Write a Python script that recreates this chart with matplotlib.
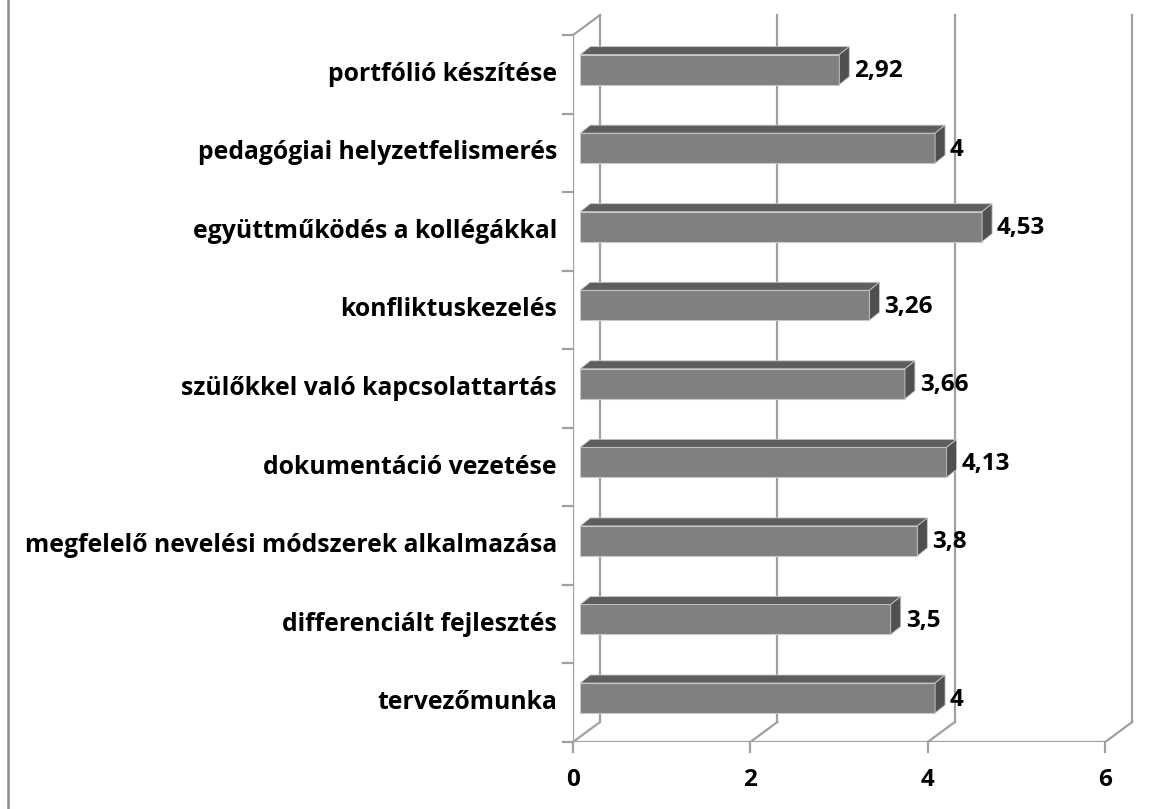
import matplotlib
matplotlib.use("Agg")
import matplotlib.pyplot as plt
from matplotlib.patches import Polygon
from matplotlib.lines import Line2D

categories = [
    "tervezőmunka",
    "differenciált fejlesztés",
    "megfelelő nevelési módszerek alkalmazása",
    "dokumentáció vezetése",
    "szülőkkel való kapcsolattartás",
    "konfliktuskezelés",
    "együttműködés a kollégákkal",
    "pedagógiai helyzetfelismerés",
    "portfólió készítése",
]
values = [4, 3.5, 3.8, 4.13, 3.66, 3.26, 4.53, 4, 2.92]
value_labels = ["4", "3,5", "3,8", "4,13", "3,66", "3,26", "4,53", "4", "2,92"]
xticks = [0, 2, 4, 6]
xtick_labels = ["0", "2", "4", "6"]

FONT = ["Open Sans", "DejaVu Sans"]
FS_CAT = 17.8
FS_VAL = 17.5
FS_TICK = 17.5

W, H = 1152, 809
fig = plt.figure(figsize=(W / 100, H / 100), dpi=100)

# pixel geometry of the front plane
px_unit = 88.7          # pixels per value unit
py_cat = 78.55          # pixels per category
x0_px, y0_px = 573, 742
xmax, ymax = 6.4, 9.35
ax = fig.add_axes([x0_px / W, (H - y0_px) / H, xmax * px_unit / W, ymax * py_cat / H])
ax.set_xlim(0, xmax)
ax.set_ylim(0, ymax)
ax.axis("off")

# depth offsets (full depth of the plot box)
ox = 27 / px_unit
oy = 20 / py_cat
n = len(categories)
xmaxv = xticks[-1]

grid_c = "#a0a0a0"
lw = 1.6

# back wall vertical gridlines and floor diagonals
for xv in xticks:
    ax.add_line(Line2D([xv + ox, xv + ox], [oy, n + oy], color=grid_c, lw=lw, zorder=1))
    ax.add_line(Line2D([xv, xv + ox], [0, oy], color=grid_c, lw=lw, zorder=1))
# floor front edge
ax.add_line(Line2D([0, xmaxv], [0, 0], color=grid_c, lw=lw, zorder=1))
# left wall front edge and top
ax.add_line(Line2D([0, 0], [0, n], color=grid_c, lw=lw, zorder=1))
ax.add_line(Line2D([0, ox], [n, n + oy], color=grid_c, lw=lw, zorder=1))

# tick marks
tlx = 10 / px_unit
tly = 10 / py_cat
for k in range(n + 1):
    ax.add_line(Line2D([-tlx, 0], [k, k], color=grid_c, lw=lw, zorder=1, clip_on=False))
for xv in xticks:
    ax.add_line(Line2D([xv, xv], [0, -tly], color=grid_c, lw=lw, zorder=1, clip_on=False))

# bars (pseudo 3D)
d1, d2 = 0.27, 0.64
bh = 30 / py_cat
front_c, top_c, side_c, edge_c = "#808080", "#5e5e5e", "#505050", "#c8c8c8"
for i, (v, lab) in enumerate(zip(values, value_labels)):
    yc = i + 0.5 + 0.06
    x_l = d1 * ox
    y_b = yc - bh / 2
    y_t = yc + bh / 2
    dx = (d2 - d1) * ox
    dy = 8 / py_cat
    ax.barh(yc, v, left=x_l, height=bh, color=front_c, edgecolor=edge_c, lw=0.8, zorder=3)
    ax.add_patch(Polygon([[x_l, y_t], [x_l + v, y_t], [x_l + v + dx, y_t + dy], [x_l + dx, y_t + dy]],
                         closed=True, facecolor=top_c, edgecolor=edge_c, lw=0.6, zorder=3))
    ax.add_patch(Polygon([[x_l + v, y_b], [x_l + v + dx, y_b + dy], [x_l + v + dx, y_t + dy], [x_l + v, y_t]],
                         closed=True, facecolor=side_c, edgecolor=edge_c, lw=0.6, zorder=3))
    ax.text(x_l + v + dx + 5 / px_unit, yc - 0.02, lab, ha="left", va="center",
            fontsize=FS_VAL, fontweight="bold", family=FONT, color="black", zorder=4)

# category labels
for i, c in enumerate(categories):
    ax.text(-16 / px_unit, i + 0.5, c, ha="right", va="center", fontsize=FS_CAT,
            fontweight="bold", family=FONT, color="black", clip_on=False)

# x tick labels
for xv, t in zip(xticks, xtick_labels):
    ax.text(xv, -38 / py_cat, t, ha="center", va="center", fontsize=FS_TICK,
            fontweight="bold", family=FONT, color="black", clip_on=False)

# chart area border (left edge)
fig.add_artist(Line2D([7.5 / W, 7.5 / W], [0, 1], transform=fig.transFigure,
                      color="#8c8c8c", lw=1.8))

fig.savefig("out.png", dpi=100, facecolor="white")
